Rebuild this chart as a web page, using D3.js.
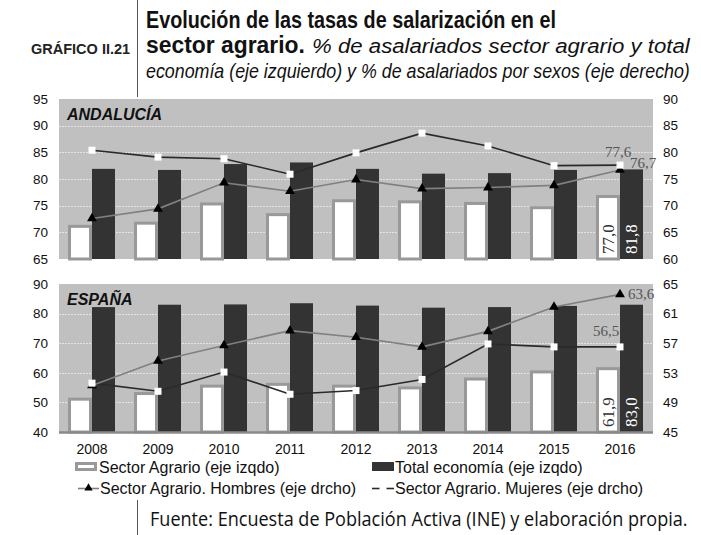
<!DOCTYPE html>
<html>
<head>
<meta charset="utf-8">
<script src="https://cdn.jsdelivr.net/npm/d3@7/dist/d3.min.js"></script>
<style>
  body { margin: 0; background: #fff; }
</style>
</head>
<body>
<script>
// ---- data ---------------------------------------------------------
var years = [2008, 2009, 2010, 2011, 2012, 2013, 2014, 2015, 2016];

// Andalucía
var andAgrario  = [71.4, 72.0, 75.6, 73.6, 76.2, 76.0, 75.7, 74.9, 77.0];
var andTotal    = [81.9, 81.7, 82.8, 83.1, 81.9, 81.0, 81.1, 81.7, 81.8];
var andHombres  = [67.6, 69.4, 74.3, 72.7, 74.9, 73.2, 73.4, 73.8, 76.7];
var andMujeres  = [80.4, 79.1, 78.8, 75.9, 79.9, 83.6, 81.2, 77.5, 77.6];

// España
var espAgrario  = [51.6, 53.5, 56.0, 56.6, 56.0, 55.4, 58.4, 60.8, 61.9];
var espTotal    = [82.2, 83.0, 83.1, 83.5, 82.7, 82.0, 82.2, 82.6, 83.0];
var espHombres  = [51.3, 54.6, 56.7, 58.7, 57.8, 56.5, 58.6, 61.9, 63.6];
var espMujeres  = [51.6, 50.5, 53.1, 50.1, 50.6, 52.1, 56.9, 56.5, 56.5];

var andLeftTicks  = [65, 70, 75, 80, 85, 90, 95];
var andRightTicks = [60, 65, 70, 75, 80, 85, 90];
var espLeftTicks  = [40, 50, 60, 70, 80, 90];
var espRightTicks = [45, 49, 53, 57, 61, 65];

// ---- svg ----------------------------------------------------------
var W = 701, H = 535;
var SANS = "Liberation Sans, Arial, sans-serif";
var SERIF = "Liberation Serif, Times New Roman, serif";

var svg = d3.select("body").append("svg")
    .attr("width", W).attr("height", H)
    .attr("font-family", SANS);

var x = d3.scaleBand().domain(years).range([59, 653]).padding(0);
function cx(d) { return x(d) + x.bandwidth() / 2; }

var fmt = function (v) { return v.toFixed(1).replace(".", ","); };

// condensed text: squeeze horizontally to a given width
function fitText(px, py, width, size, txt, style) {
  var g = svg.append("g");
  var t = g.append("text").attr("x", 0).attr("y", 0).attr("font-size", size)
      .attr("fill", "#111").text(txt);
  for (var k in style) t.attr(k, style[k]);
  var len = t.node().getComputedTextLength();
  g.attr("transform", "translate(" + px + "," + py + ") scale(" + (width / len) + ",1)");
  return t;
}

/* header */
svg.append("line").attr("x1", 137.5).attr("x2", 137.5).attr("y1", 0).attr("y2", 97)
    .attr("stroke", "#555").attr("stroke-width", 1);
svg.append("text").attr("x", 31).attr("y", 54).attr("font-size", 14.5)
    .attr("font-weight", "bold").attr("fill", "#222").text("GRÁFICO II.21");
fitText(146, 28, 410, 24, "Evolución de las tasas de salarización en el", { "font-weight": "bold" });
fitText(146, 53, 159, 24, "sector agrario.", { "font-weight": "bold" });
fitText(312, 53, 378, 20, "% de asalariados sector agrario y total", { "font-style": "italic" });
fitText(146, 78, 544, 20, "economía (eje izquierdo) y % de asalariados por sexos (eje derecho)",
    { "font-style": "italic" });

/* panels */
function panel(opt) {
  var yL = d3.scaleLinear().domain(opt.left).range([opt.bottom, opt.top]);
  var yR = d3.scaleLinear().domain(opt.right).range([opt.bottom, opt.top]);
  var g = svg.append("g");

  g.append("rect").attr("x", 59).attr("y", opt.top)
      .attr("width", 594).attr("height", opt.bottom - opt.top).attr("fill", "#c0c0c0");

  // gridlines
  g.selectAll(".grid").data(opt.leftTicks.slice(1, -1)).enter().append("line")
      .attr("x1", 59).attr("x2", 653)
      .attr("y1", function (d) { return Math.round(yL(d)) + 0.5; })
      .attr("y2", function (d) { return Math.round(yL(d)) + 0.5; })
      .attr("stroke", "#e4e4e4").attr("stroke-width", 1).attr("stroke-dasharray", "2,1");

  // axes
  var aL = d3.axisLeft(yL).tickValues(opt.leftTicks).tickSize(0).tickPadding(11);
  var aR = d3.axisRight(yR).tickValues(opt.rightTicks).tickSize(0).tickPadding(10);
  g.append("g").attr("transform", "translate(59,0)").call(aL)
      .attr("font-family", SANS).attr("font-size", 13.5)
      .call(function (s) { s.select(".domain").remove(); })
      .selectAll("text").attr("fill", "#111");
  g.append("g").attr("transform", "translate(653,0)").call(aR)
      .attr("font-family", SANS).attr("font-size", 13.5)
      .call(function (s) { s.select(".domain").remove(); })
      .selectAll("text").attr("fill", "#111");

  // bars
  g.selectAll(".agr").data(years).enter().append("rect")
      .attr("x", function (d) { return cx(d) - 22.5; })
      .attr("width", 21)
      .attr("y", function (d, i) { return yL(opt.agrario[i]) + 1.5; })
      .attr("height", function (d, i) { return opt.bottom - yL(opt.agrario[i]) - 1.5; })
      .attr("fill", "#fff").attr("stroke", "#999").attr("stroke-width", 3);
  g.selectAll(".tot").data(years).enter().append("rect")
      .attr("x", function (d) { return cx(d); })
      .attr("width", 23)
      .attr("y", function (d, i) { return yL(opt.total[i]); })
      .attr("height", function (d, i) { return opt.bottom - yL(opt.total[i]); })
      .attr("fill", "#333");

  if (opt.axisLine) {
    g.append("line").attr("x1", 59).attr("x2", 653)
        .attr("y1", opt.bottom + 0.5).attr("y2", opt.bottom + 0.5)
        .attr("stroke", "#8a8a8a").attr("stroke-width", 2.5);
  }

  // lines
  var lineH = d3.line().x(function (d) { return cx(d); })
      .y(function (d, i) { return yR(opt.hombres[i]); });
  var lineM = d3.line().x(function (d) { return cx(d); })
      .y(function (d, i) { return yR(opt.mujeres[i]); });
  g.append("path").attr("d", lineM(years)).attr("fill", "none")
      .attr("stroke", "#2a2a2a").attr("stroke-width", 1.6);
  g.append("path").attr("d", lineH(years)).attr("fill", "none")
      .attr("stroke", "#808080").attr("stroke-width", 1.6);

  var tri = d3.symbol().type(d3.symbolTriangle).size(42);
  g.selectAll(".tri").data(years).enter().append("path")
      .attr("d", tri)
      .attr("transform", function (d, i) { return "translate(" + cx(d) + "," + yR(opt.hombres[i]) + ")"; })
      .attr("fill", "#000");
  g.selectAll(".sq").data(years).enter().append("rect")
      .attr("x", function (d) { return cx(d) - 3.5; })
      .attr("y", function (d, i) { return yR(opt.mujeres[i]) - 3.5; })
      .attr("width", 7).attr("height", 7).attr("fill", "#fff");

  // panel title
  g.append("text").attr("x", 67).attr("y", opt.top + 21).attr("font-size", 16)
      .attr("font-weight", "bold").attr("font-style", "italic").attr("fill", "#111")
      .text(opt.name);

  // value labels (last year)
  var n = years.length - 1, last = years[n];
  g.append("text")
      .attr("transform", "translate(" + (cx(last) - 12) + "," + (opt.bottom - 5) + ") rotate(-90)")
      .attr("dy", "0.35em").attr("font-family", SERIF).attr("font-size", 17)
      .attr("fill", "#333").text(fmt(opt.agrario[n]));
  g.append("text")
      .attr("transform", "translate(" + (cx(last) + 11.5) + "," + (opt.bottom - 5) + ") rotate(-90)")
      .attr("dy", "0.35em").attr("font-family", SERIF).attr("font-size", 17)
      .attr("fill", "#fff").text(fmt(opt.total[n]));

  opt.pointLabels.forEach(function (p) {
    var v = p.series[n];
    g.append("text").attr("x", cx(last) + p.dx).attr("y", yR(v) + p.dy)
        .attr("text-anchor", p.anchor).attr("font-family", SERIF).attr("font-size", 15)
        .attr("fill", "#555").text(fmt(v));
  });
}

panel({
  name: "ANDALUCÍA", top: 99, bottom: 259,
  left: [65, 95], right: [60, 90], leftTicks: andLeftTicks, rightTicks: andRightTicks,
  agrario: andAgrario, total: andTotal, hombres: andHombres, mujeres: andMujeres,
  axisLine: false,
  pointLabels: [
    { series: andMujeres, dx: -2, dy: -8, anchor: "middle" },
    { series: andHombres, dx: 10, dy: -2, anchor: "start" }
  ]
});

panel({
  name: "ESPAÑA", top: 284, bottom: 432,
  left: [40, 90], right: [45, 65], leftTicks: espLeftTicks, rightTicks: espRightTicks,
  agrario: espAgrario, total: espTotal, hombres: espHombres, mujeres: espMujeres,
  axisLine: true,
  pointLabels: [
    { series: espMujeres, dx: -14, dy: -11, anchor: "middle" },
    { series: espHombres, dx: 8, dy: 5, anchor: "start" }
  ]
});

/* category axis */
var ax = d3.axisBottom(x).tickSize(0).tickPadding(10);
svg.append("g").attr("transform", "translate(0,434)").call(ax)
    .attr("font-family", SANS).attr("font-size", 14)
    .call(function (s) { s.select(".domain").remove(); })
    .selectAll("text").attr("fill", "#111");

/* legend */
var lg = svg.append("g").attr("font-size", 16).attr("fill", "#111");
lg.append("rect").attr("x", 76.5).attr("y", 463.5).attr("width", 19).attr("height", 6)
    .attr("fill", "#fff").attr("stroke", "#999").attr("stroke-width", 3);
lg.append("text").attr("x", 99).attr("y", 473).text("Sector Agrario (eje izqdo)");
lg.append("rect").attr("x", 372).attr("y", 462).attr("width", 22).attr("height", 9)
    .attr("fill", "#333");
lg.append("text").attr("x", 395).attr("y", 473).text("Total economía (eje izqdo)");

lg.append("line").attr("x1", 78).attr("x2", 99).attr("y1", 488.5).attr("y2", 488.5)
    .attr("stroke", "#808080").attr("stroke-width", 1.6);
lg.append("path").attr("d", d3.symbol().type(d3.symbolTriangle).size(30))
    .attr("transform", "translate(88.5,488)").attr("fill", "#000");
lg.append("text").attr("x", 100).attr("y", 494).text("Sector Agrario. Hombres (eje drcho)");
lg.append("line").attr("x1", 372).attr("x2", 394).attr("y1", 488.5).attr("y2", 488.5)
    .attr("stroke", "#2a2a2a").attr("stroke-width", 1.6);
lg.append("rect").attr("x", 379.5).attr("y", 485).attr("width", 7).attr("height", 7)
    .attr("fill", "#fff");
lg.append("text").attr("x", 395).attr("y", 494).text("Sector Agrario. Mujeres (eje drcho)");

/* footer */
svg.append("line").attr("x1", 137.5).attr("x2", 137.5).attr("y1", 500).attr("y2", 535)
    .attr("stroke", "#555").attr("stroke-width", 1);
fitText(150, 526, 538, 20, "Fuente: Encuesta de Población Activa (INE) y elaboración propia.",
    { "font-family": "Open Sans, sans-serif" });
</script>
</body>
</html>
